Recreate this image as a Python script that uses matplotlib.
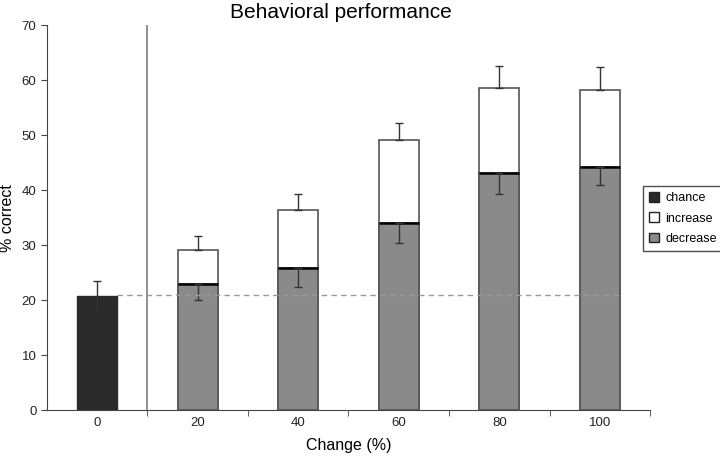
import matplotlib.pyplot as plt
from matplotlib.patches import Patch

plt.rcParams['font.family'] = ['Liberation Sans', 'DejaVu Sans']

categories = ['0', '20', '40', '60', '80', '100']
chance = 20.8
chance_err = 2.7
chance_level = 20.9
increase = [29.2, 36.4, 49.1, 58.5, 58.2]
increase_err = [2.4, 2.9, 3.2, 4.0, 4.2]
decrease = [22.9, 25.9, 34.1, 43.1, 44.2]
decrease_err = [2.9, 3.5, 3.6, 3.8, 3.3]

fig = plt.figure(figsize=(7.2, 4.58), dpi=100)
ax = fig.add_axes([0.065, 0.104, 0.838, 0.841])

edge = '#555555'
w = 0.4
xs = list(range(1, len(categories)))

# chance bar
ax.bar(0, chance, width=w, color='#2a2a2a', edgecolor='#2a2a2a', zorder=2)
ax.errorbar(0, chance, yerr=chance_err, fmt='none', ecolor='#333333',
            elinewidth=1, capsize=3, zorder=3)

# increase (white) behind, decrease (gray) in front
ax.bar(xs, increase, width=w, color='white', edgecolor=edge, linewidth=1.2, zorder=2)
ax.errorbar(xs, increase, yerr=[[0] * 5, increase_err], fmt='none', ecolor='#333333',
            elinewidth=1, capsize=3, zorder=3)
ax.bar(xs, decrease, width=w, color='#8a8a8a', edgecolor=edge, linewidth=1.2, zorder=4)
ax.hlines(decrease, [x - w / 2 for x in xs], [x + w / 2 for x in xs],
          color='black', linewidth=1.8, zorder=5)
ax.errorbar(xs, decrease, yerr=[decrease_err, [0] * 5], fmt='none', ecolor='#333333',
            elinewidth=1, capsize=3, zorder=6)

ax.hlines(chance_level, w / 2, 5 + w / 2, colors='#9a9a9a', linestyles=(0, (4, 3)),
          linewidth=1, zorder=7)
ax.vlines(0.5, 0, 70, colors='#888888', linewidth=1.3, zorder=1)

ax.set_xlim(-0.5, 5.5)
ax.set_ylim(0, 70)
ax.set_yticks(range(0, 71, 10))
ax.set_xticks(range(len(categories)))
ax.set_xticklabels(categories)
ax.set_xticks([0.5, 1.5, 2.5, 3.5, 4.5, 5.5], minor=True)
ax.tick_params(axis='x', which='major', length=0, pad=5, labelsize=9.5, colors='#222222')
ax.tick_params(axis='x', which='minor', length=4, direction='out', color='#444444')
ax.tick_params(axis='y', length=4, direction='out', labelsize=9.5, color='#444444',
               labelcolor='#222222')
for s in ['top', 'right']:
    ax.spines[s].set_visible(False)
for s in ['left', 'bottom']:
    ax.spines[s].set_color('#444444')

ax.set_xlabel('Change (%)', fontsize=11.5)
ax.xaxis.set_label_coords(0.5, -0.073)
ax.set_ylabel('% correct', fontsize=11.5)
ax.yaxis.set_label_coords(-0.053, 0.5)
fig.text(0.474, 0.972, 'Behavioral performance', ha='center', va='center', fontsize=15)

handles = [Patch(facecolor='#2a2a2a', edgecolor='#222222', label='chance'),
           Patch(facecolor='white', edgecolor='#222222', label='increase'),
           Patch(facecolor='#8a8a8a', edgecolor='#222222', label='decrease')]
leg = fig.legend(handles=handles, loc='upper left', bbox_to_anchor=(0.893, 0.594),
                 fontsize=9, frameon=True, fancybox=False, handlelength=0.8,
                 handleheight=0.8, handletextpad=0.5, borderpad=0.5, labelspacing=0.65,
                 borderaxespad=0)
leg.get_frame().set_edgecolor('#222222')
leg.get_frame().set_linewidth(1)

fig.savefig('out.png', dpi=100)
